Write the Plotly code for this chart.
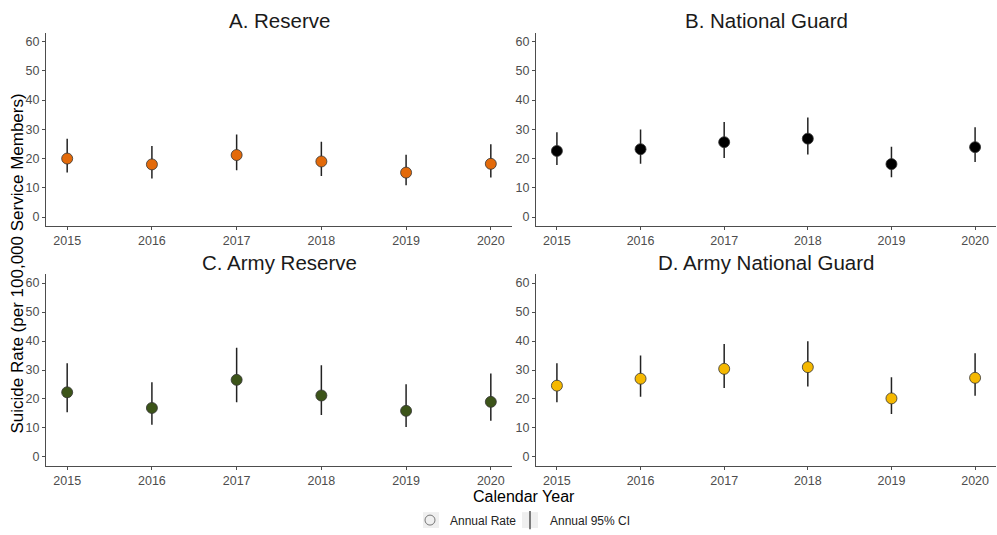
import plotly.graph_objects as go

years = [2015, 2016, 2017, 2018, 2019, 2020]

titles = ["A. Reserve", "B. National Guard", "C. Army Reserve", "D. Army National Guard"]
colors = ["#E36A0A", "#000000", "#3C5419", "#F5B800"]

rate_a = [20.0, 18.0, 21.2, 19.0, 15.2, 18.2]
lo_a = [15.2, 13.2, 16.0, 14.0, 10.9, 13.5]
hi_a = [26.8, 24.3, 28.2, 25.7, 21.3, 24.9]

rate_b = [22.6, 23.2, 25.6, 26.8, 18.1, 23.9]
lo_b = [17.8, 18.2, 20.2, 21.4, 13.6, 18.8]
hi_b = [29.0, 29.9, 32.5, 34.0, 24.0, 30.7]

rate_c = [22.3, 16.9, 26.6, 21.2, 15.9, 19.0]
lo_c = [15.4, 11.1, 18.9, 14.5, 10.3, 12.5]
hi_c = [32.3, 25.8, 37.7, 31.6, 25.1, 28.8]

rate_d = [24.6, 27.0, 30.4, 31.0, 20.2, 27.3]
lo_d = [18.9, 20.8, 23.8, 24.3, 14.8, 21.1]
hi_d = [32.3, 35.0, 39.0, 39.9, 27.5, 35.8]

y_ticks = [0, 10, 20, 30, 40, 50, 60]

W, H = 997, 535
def px_x(p):
    return p / W
def px_y(p):
    return 1 - p / H

panels = [
    (rate_a, lo_a, hi_a, (46, 512), (33, 228)),
    (rate_b, lo_b, hi_b, (536, 996), (33, 228)),
    (rate_c, lo_c, hi_c, (46, 512), (277, 470)),
    (rate_d, lo_d, hi_d, (536, 996), (277, 470)),
]

fig = go.Figure()
font_family = "Liberation Sans, Arial, sans-serif"
annotations = []
layout_axes = {}

for i, (rate, lo, hi, (x0, x1), (y0, y1)) in enumerate(panels):
    n = i + 1
    xa = "x" if n == 1 else f"x{n}"
    ya = "y" if n == 1 else f"y{n}"
    fig.add_trace(go.Scatter(
        x=years, y=rate, mode="markers", xaxis=xa, yaxis=ya,
        marker=dict(size=11, color=colors[i], line=dict(width=0.8, color="#333333")),
        error_y=dict(type="data", symmetric=False,
                     array=[h - r for h, r in zip(hi, rate)],
                     arrayminus=[r - l for r, l in zip(rate, lo)],
                     width=0, thickness=1.5, color="#222222"),
        showlegend=False, hoverinfo="x+y",
    ))
    xkey = "xaxis" if n == 1 else f"xaxis{n}"
    ykey = "yaxis" if n == 1 else f"yaxis{n}"
    layout_axes[xkey] = dict(
        domain=[px_x(x0), px_x(x1)], range=[2014.75, 2020.25], anchor=ya,
        tickvals=years, ticktext=[str(y) for y in years],
        showgrid=False, zeroline=False, showline=True, linecolor="#4D4D4D", linewidth=1.2,
        ticks="outside", ticklen=3, tickcolor="#4D4D4D",
        tickfont=dict(size=12.5, color="#4D4D4D", family=font_family),
    )
    layout_axes[ykey] = dict(
        domain=[px_y(y1), px_y(y0)], range=[-3, 63], anchor=xa,
        tickvals=y_ticks, showgrid=False, zeroline=False, showline=True,
        linecolor="#4D4D4D", linewidth=1.2, ticks="outside", ticklen=3, tickcolor="#4D4D4D",
        tickfont=dict(size=12.5, color="#4D4D4D", family=font_family),
    )
    annotations.append(dict(
        text=titles[i], x=px_x((x0 + x1) / 2), y=px_y(y0 - 12), xref="paper", yref="paper",
        showarrow=False, font=dict(size=20.5, color="#1a1a1a", family=font_family),
        xanchor="center", yanchor="middle",
    ))

annotations.append(dict(
    text="Suicide Rate (per 100,000 Service Members)", x=px_x(18), y=px_y(266),
    xref="paper", yref="paper", showarrow=False, textangle=-90,
    font=dict(size=17, color="#000000", family=font_family), xanchor="center", yanchor="middle",
))
annotations.append(dict(
    text="Calendar Year", x=px_x(524), y=px_y(501), xref="paper", yref="paper",
    showarrow=False, font=dict(size=16, color="#000000", family=font_family),
    xanchor="center", yanchor="middle",
))

# legend entries (two separate legends so each key can be placed)
fig.add_trace(go.Scatter(
    x=[None], y=[None], mode="markers", name="Annual Rate", legend="legend",
    marker=dict(symbol="circle-open", size=10, color="#777777", line=dict(width=1)),
))
fig.add_trace(go.Scatter(
    x=[None], y=[None], mode="markers", name="Annual 95% CI", legend="legend2",
    marker=dict(symbol="line-ns-open", size=13, color="#555555", line=dict(width=1.5, color="#555555")),
))

# light grey key backgrounds, as in the reference legend
shapes = [
    dict(type="rect", xref="paper", yref="paper", x0=px_x(423), x1=px_x(439),
         y0=px_y(533), y1=px_y(517), fillcolor="#EFEFEF", line=dict(width=0), layer="below"),
    dict(type="rect", xref="paper", yref="paper", x0=px_x(522), x1=px_x(538),
         y0=px_y(533), y1=px_y(517), fillcolor="#EFEFEF", line=dict(width=0), layer="below"),
]

legend_common = dict(orientation="h", yanchor="middle", xanchor="left",
                     font=dict(size=12, color="#222222", family=font_family),
                     itemwidth=30, bgcolor="rgba(0,0,0,0)")

fig.update_layout(
    width=W, height=H, margin=dict(l=0, r=0, t=0, b=0),
    paper_bgcolor="white", plot_bgcolor="white",
    annotations=annotations, shapes=shapes,
    legend=dict(x=px_x(410), y=px_y(525), **legend_common),
    legend2=dict(x=px_x(510), y=px_y(525), **legend_common),
    **layout_axes,
)

fig.write_html("out.html", config={"displayModeBar": False},
               post_script="document.body.style.margin='0';document.body.style.overflow='hidden';")
